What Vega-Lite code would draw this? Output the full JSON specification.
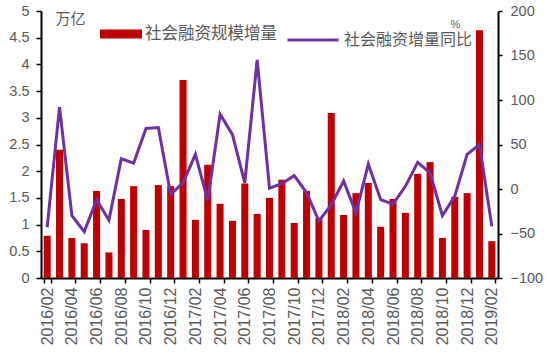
{
  "$schema": "https://vega.github.io/schema/vega-lite/v6.json",
  "width": 457,
  "height": 267,
  "autosize": {"type": "none"},
  "padding": {"left": 41, "top": 11, "right": 49, "bottom": 77},
  "config": {
    "view": {"stroke": null},
    "axis": {"labelFont": "Liberation Sans", "labelColor": "#595959", "domainColor": "#000000", "tickColor": "#000000", "grid": false}
  },
  "data": {"values": [
    {"m": "2016/02", "v": 0.79, "r": -43},
    {"m": "2016/03", "v": 2.40, "r": 92},
    {"m": "2016/04", "v": 0.75, "r": -30},
    {"m": "2016/05", "v": 0.65, "r": -48},
    {"m": "2016/06", "v": 1.63, "r": -12},
    {"m": "2016/07", "v": 0.48, "r": -35},
    {"m": "2016/08", "v": 1.48, "r": 34},
    {"m": "2016/09", "v": 1.72, "r": 29},
    {"m": "2016/10", "v": 0.90, "r": 68},
    {"m": "2016/11", "v": 1.74, "r": 69},
    {"m": "2016/12", "v": 1.72, "r": -6},
    {"m": "2017/01", "v": 3.71, "r": 7},
    {"m": "2017/02", "v": 1.09, "r": 39},
    {"m": "2017/03", "v": 2.12, "r": -13},
    {"m": "2017/04", "v": 1.39, "r": 84},
    {"m": "2017/05", "v": 1.07, "r": 61},
    {"m": "2017/06", "v": 1.77, "r": 7},
    {"m": "2017/07", "v": 1.20, "r": 145},
    {"m": "2017/08", "v": 1.50, "r": 1},
    {"m": "2017/09", "v": 1.84, "r": 6},
    {"m": "2017/10", "v": 1.03, "r": 15},
    {"m": "2017/11", "v": 1.63, "r": -4},
    {"m": "2017/12", "v": 1.12, "r": -36},
    {"m": "2018/01", "v": 3.09, "r": -18},
    {"m": "2018/02", "v": 1.18, "r": 9},
    {"m": "2018/03", "v": 1.59, "r": -27},
    {"m": "2018/04", "v": 1.78, "r": 28},
    {"m": "2018/05", "v": 0.96, "r": -12},
    {"m": "2018/06", "v": 1.48, "r": -17},
    {"m": "2018/07", "v": 1.22, "r": 3},
    {"m": "2018/08", "v": 1.95, "r": 30},
    {"m": "2018/09", "v": 2.17, "r": 18},
    {"m": "2018/10", "v": 0.75, "r": -30},
    {"m": "2018/11", "v": 1.52, "r": -8},
    {"m": "2018/12", "v": 1.59, "r": 39},
    {"m": "2019/01", "v": 4.64, "r": 50},
    {"m": "2019/02", "v": 0.69, "r": -42}
  ]},
  "encoding": {
    "x": {
      "field": "m", "type": "ordinal", "sort": null,
      "scale": {"paddingInner": 0.43, "paddingOuter": 0.215},
      "axis": {
        "title": null,
        "values": ["2016/02", "2016/04", "2016/06", "2016/08", "2016/10", "2016/12", "2017/02", "2017/04", "2017/06", "2017/08", "2017/10", "2017/12", "2018/02", "2018/04", "2018/06", "2018/08", "2018/10", "2018/12", "2019/02"],
        "labelAngle": -90, "labelAlign": "right", "labelBaseline": "middle",
        "labelFontSize": 16, "labelPadding": 4, "tickSize": 5, "tickBand": "extent",
        "domainWidth": 2, "tickWidth": 1.5
      }
    }
  },
  "layer": [
    {
      "mark": {"type": "bar"},
      "encoding": {
        "y": {
          "field": "v", "type": "quantitative",
          "scale": {"domain": [0, 5], "nice": false},
          "axis": {
            "values": [0, 0.5, 1, 1.5, 2, 2.5, 3, 3.5, 4, 4.5, 5], "format": "~g",
            "labelFontSize": 14.5, "tickSize": 5, "labelPadding": 7, "domainWidth": 2, "tickWidth": 1.5,
            "title": "万亿", "titleAngle": 0, "titleX": 14, "titleY": 7, "titleAlign": "left", "titleBaseline": "middle",
            "titleFont": "Noto Sans CJK SC", "titleFontSize": 15, "titleFontWeight": "normal", "titleColor": "#595959"
          }
        },
        "color": {
          "datum": "社会融资规模增量",
          "scale": {"range": ["#C00000"]},
          "legend": {
            "orient": "none", "legendX": 59, "legendY": 2, "title": null, "padding": 0,
            "symbolType": "M-1,-0.214H1V0.214H-1Z", "symbolSize": 1764, "symbolStrokeWidth": 0,
            "labelFont": "Noto Sans CJK SC", "labelFontSize": 16.5, "labelColor": "#595959", "labelOffset": 3
          }
        }
      }
    },
    {
      "mark": {"type": "line", "strokeWidth": 3},
      "encoding": {
        "y": {
          "field": "r", "type": "quantitative",
          "scale": {"domain": [-100, 200], "nice": false},
          "axis": {
            "orient": "right", "values": [-100, -50, 0, 50, 100, 150, 200],
            "labelFontSize": 14.5, "tickSize": 4, "labelPadding": 8, "domainWidth": 2, "tickWidth": 1.5,
            "title": "%", "titleAngle": 0, "titleX": -43, "titleY": 13, "titleAlign": "center", "titleBaseline": "middle",
            "titleFont": "Liberation Sans", "titleFontSize": 11, "titleFontWeight": "normal", "titleColor": "#595959"
          }
        },
        "stroke": {
          "datum": "社会融资增量同比",
          "scale": {"range": ["#7030A0"]},
          "legend": {
            "orient": "none", "legendX": 245, "legendY": 2, "title": null, "padding": 0,
            "symbolType": "stroke", "symbolSize": 2601, "symbolStrokeWidth": 3,
            "labelFont": "Noto Sans CJK SC", "labelFontSize": 16, "labelColor": "#595959", "labelOffset": 4
          }
        }
      }
    }
  ],
  "resolve": {"scale": {"y": "independent"}}
}
